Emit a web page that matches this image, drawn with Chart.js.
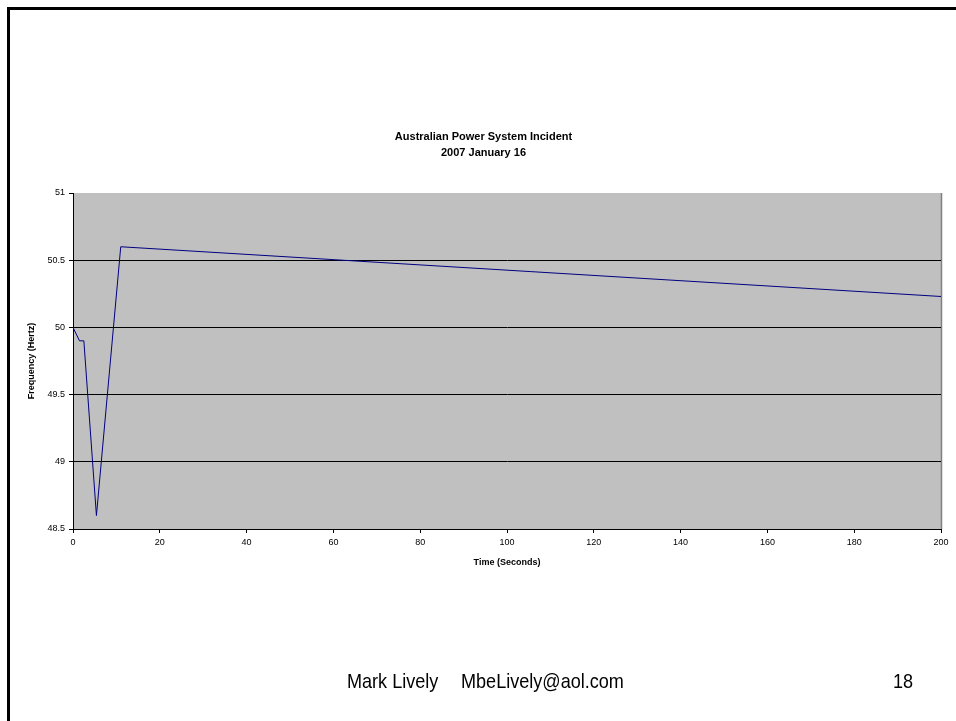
<!DOCTYPE html>
<html>
<head>
<meta charset="utf-8">
<title>Australian Power System Incident</title>
<script src="https://cdn.jsdelivr.net/npm/chart.js@4.4.1/dist/chart.umd.min.js"></script>
<style>
  html, body { margin: 0; padding: 0; background: #fff; overflow: hidden; }
  body { width: 956px; height: 721px; position: relative; font-family: "Liberation Sans", Arial, sans-serif; }
  #frame { position: absolute; left: 7px; top: 7px; width: 2000px; height: 2000px;
           border-top: 3px solid #000; border-left: 3px solid #000; box-sizing: border-box; }
  #chart { position: absolute; left: 0; top: 0; }
  .foot { position: absolute; top: 670px; font-size: 21px; line-height: 21px; color: #000;
          white-space: nowrap; transform: scaleX(0.86); transform-origin: left top; }
</style>
</head>
<body>
<div id="frame"></div>
<canvas id="chart" width="956" height="721"></canvas>
<div class="foot" style="left:347px">Mark Lively</div>
<div class="foot" style="left:461px">MbeLively@aol.com</div>
<div class="foot" style="left:893px">18</div>
<script>
// Grid frequency after the 16 January 2007 incident
const timeSeconds = [0, 1.5, 2.5, 5.4, 11, 200];
const frequencyHz = [50, 49.9, 49.9, 48.6, 50.6, 50.23];

const chartTitle = ['Australian Power System Incident', '2007 January 16'];
const xAxisTitle = 'Time (Seconds)';
const yAxisTitle = 'Frequency (Hertz)';

const FONT = '"Liberation Sans", Arial, sans-serif';

const points = timeSeconds.map((t, i) => ({ x: t, y: frequencyHz[i] }));

// grey plot area with a darker right edge
const plotBackground = {
  id: 'plotBackground',
  beforeDraw(chart) {
    const { ctx, chartArea: a } = chart;
    ctx.save();
    ctx.fillStyle = '#C0C0C0';
    ctx.fillRect(a.left, a.top, a.right - a.left, a.bottom - a.top);
    ctx.strokeStyle = '#808080';
    ctx.lineWidth = 1.5;
    ctx.beginPath();
    ctx.moveTo(a.right + 0.5, a.top);
    ctx.lineTo(a.right + 0.5, a.bottom);
    ctx.stroke();
    ctx.restore();
  }
};

new Chart(document.getElementById('chart'), {
  type: 'scatter',
  data: {
    datasets: [{
      data: points,
      showLine: true,
      borderColor: '#000080',
      backgroundColor: '#000080',
      borderWidth: 1,
      pointRadius: 0,
      tension: 0
    }]
  },
  options: {
    responsive: false,
    animation: false,
    devicePixelRatio: 1,
    layout: { padding: { left: 26, right: 15, top: 0, bottom: 153 } },
    plugins: {
      legend: { display: false },
      tooltip: { enabled: false },
      title: {
        display: true,
        text: chartTitle,
        color: '#000',
        font: { family: FONT, size: 11, weight: 'bold', lineHeight: 1.45 },
        padding: { top: 129, bottom: 32.1 }
      }
    },
    scales: {
      x: {
        type: 'linear',
        min: 0,
        max: 200,
        afterFit(scale) { scale.height = 39; },
        ticks: { stepSize: 20, color: '#000', padding: 4, maxRotation: 0,
                 font: { family: FONT, size: 9 } },
        grid: { drawOnChartArea: false, drawTicks: true, tickLength: 4, tickColor: '#000' },
        border: { display: true, color: '#000', width: 1 },
        title: { display: true, text: xAxisTitle, color: '#000', padding: 0,
                 font: { family: FONT, size: 9, weight: 'bold' } }
      },
      y: {
        min: 48.5,
        max: 51,
        afterFit(scale) { scale.width = 47; },
        ticks: { stepSize: 0.5, color: '#000', padding: 4,
                 font: { family: FONT, size: 9 },
                 callback: (v) => String(v) },
        grid: {
          color: (ctx) => (ctx.tick && ctx.tick.value === 51) ? 'rgba(0,0,0,0)' : '#000',
          lineWidth: 1,
          tickLength: 4,
          tickColor: '#000'
        },
        border: { display: true, color: '#000', width: 1 },
        title: { display: true, text: yAxisTitle, color: '#000', padding: 0,
                 font: { family: FONT, size: 9, weight: 'bold' } }
      }
    }
  },
  plugins: [plotBackground]
});
</script>
</body>
</html>
